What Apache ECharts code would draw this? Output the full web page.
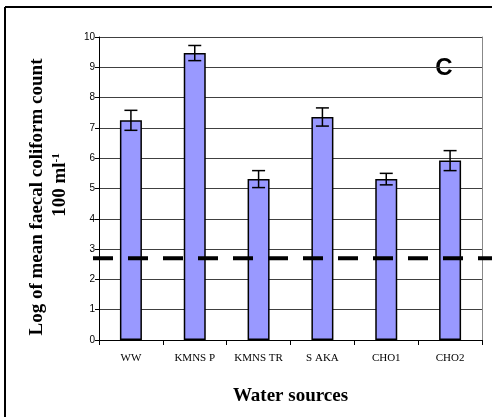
<!DOCTYPE html>
<html>
<head>
<meta charset="utf-8">
<script src="https://cdn.jsdelivr.net/npm/echarts@6/dist/echarts.min.js"></script>
<style>
html,body{margin:0;padding:0;background:#fff;}
#chart{width:492px;height:417px;}
</style>
</head>
<body>
<div id="chart"></div>
<script>
const categories = ['WW', 'KMNS P', 'KMNS TR', 'S AKA', 'CHO1', 'CHO2'];
const means = [7.25, 9.47, 5.31, 7.36, 5.31, 5.92];
const errors = [0.33, 0.25, 0.28, 0.30, 0.19, 0.33];
const threshold = 2.7;
const yTicks = [0, 1, 2, 3, 4, 5, 6, 7, 8, 9, 10];

const chart = echarts.init(document.getElementById('chart'), null, {renderer: 'canvas'});

const errData = categories.map((c, i) => [i, means[i] - errors[i], means[i] + errors[i]]);

const option = {
  animation: false,
  backgroundColor: '#fff',
  grid: {left: 99, top: 37, right: 10, bottom: 77},
  xAxis: {
    type: 'category',
    data: categories,
    axisLine: {lineStyle: {color: '#000', width: 1}},
    axisTick: {show: true, length: 5, lineStyle: {color: '#000'}},
    axisLabel: {fontFamily: 'Liberation Serif', fontSize: 11, color: '#000', margin: 13},
    name: 'Water sources',
    nameLocation: 'middle',
    nameGap: 47,
    nameTextStyle: {fontFamily: 'Liberation Serif', fontWeight: 'bold', fontSize: 19, color: '#000'}
  },
  yAxis: [{
    type: 'value',
    min: 0, max: 10, interval: 1,
    axisLine: {show: true, lineStyle: {color: '#000', width: 1}},
    axisTick: {show: true, length: 4, lineStyle: {color: '#000'}},
    axisLabel: {fontFamily: 'Liberation Sans', fontSize: 10, color: '#000', margin: 4,
                formatter: v => yTicks.includes(v) ? String(v) : ''},
    splitLine: {show: true, lineStyle: {color: '#404040', width: 1}}
  }, {
    type: 'value',
    position: 'right',
    min: 0, max: 10, interval: 1,
    axisLine: {show: true, lineStyle: {color: '#888', width: 1}},
    axisTick: {show: false},
    axisLabel: {show: false},
    splitLine: {show: false}
  }],
  graphic: [
    {type: 'line', shape: {x1: 5, y1: 7, x2: 492, y2: 7}, style: {stroke: '#000', lineWidth: 2}},
    {type: 'line', shape: {x1: 5, y1: 7, x2: 5, y2: 417}, style: {stroke: '#000', lineWidth: 2}},
    {type: 'text', x: 37, y: 197, rotation: Math.PI / 2,
     style: {text: 'Log of mean faecal coliform count', font: 'bold 19px "Liberation Serif"',
             fill: '#000', textAlign: 'center', textVerticalAlign: 'middle'}},
    {type: 'text', x: 60, y: 185, rotation: Math.PI / 2,
     style: {rich: {n: {font: 'bold 19px "Liberation Serif"', fill: '#000'},
                    s: {font: 'bold 11px "Liberation Serif"', fill: '#000', verticalAlign: 'top', padding: [0,0,8,0]}},
             text: '{n|100 ml}{s|-1}', textAlign: 'center', textVerticalAlign: 'middle'}},
    {type: 'text', x: 444, y: 68,
     style: {text: 'C', font: 'bold 24px "Liberation Sans"', fill: '#000',
             textAlign: 'center', textVerticalAlign: 'middle'}}
  ],
  series: [
    {
      type: 'bar',
      data: means,
      barWidth: 22,
      itemStyle: {color: '#9999ff', borderColor: '#000', borderWidth: 1.5},
      z: 2
    },
    {
      type: 'custom',
      data: errData,
      z: 3,
      renderItem: function (params, api) {
        const lo = api.coord([api.value(0), api.value(1)]);
        const hi = api.coord([api.value(0), api.value(2)]);
        const hw = 6.5;
        const st = {stroke: '#000', lineWidth: 1.5};
        return {type: 'group', children: [
          {type: 'line', shape: {x1: lo[0], y1: lo[1], x2: hi[0], y2: hi[1]}, style: st},
          {type: 'line', shape: {x1: hi[0] - hw, y1: hi[1], x2: hi[0] + hw, y2: hi[1]}, style: st},
          {type: 'line', shape: {x1: lo[0] - hw, y1: lo[1], x2: lo[0] + hw, y2: lo[1]}, style: st}
        ]};
      }
    },
    {
      type: 'custom',
      data: [[0, threshold]],
      z: 4,
      clip: false,
      renderItem: function (params, api) {
        const p = api.coord([0, api.value(1)]);
        const cs = params.coordSys;
        return {type: 'line', shape: {x1: cs.x - 6, y1: p[1], x2: 492, y2: p[1]},
                style: {stroke: '#000', lineWidth: 4, lineDash: [20, 15]}};
      }
    }
  ]
};
chart.setOption(option);
</script>
</body>
</html>
